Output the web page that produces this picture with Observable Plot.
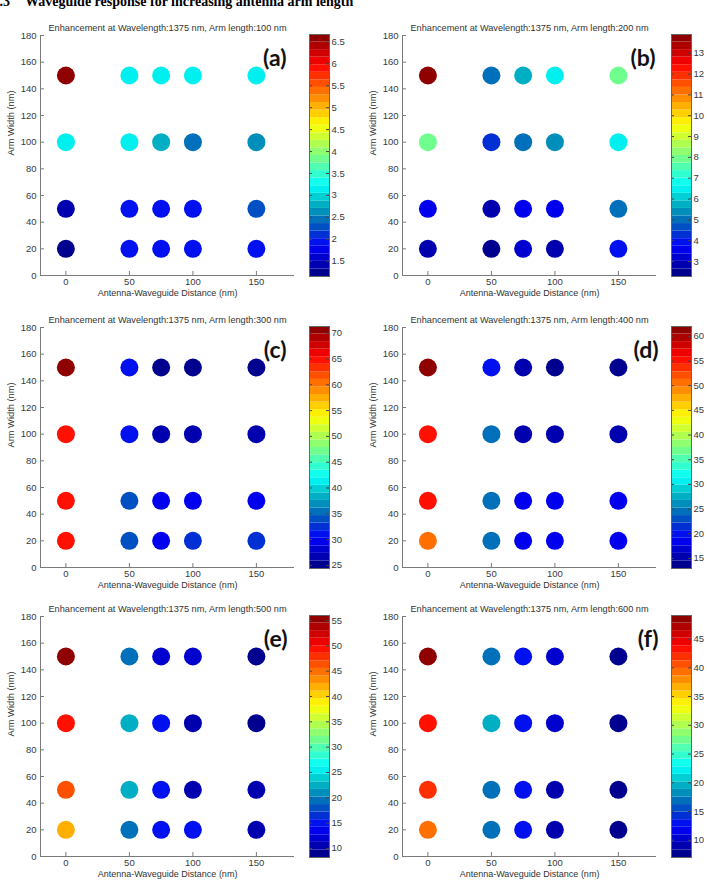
<!DOCTYPE html>
<html>
<head>
<meta charset="utf-8">
<script src="https://cdn.jsdelivr.net/npm/d3@7"></script>
<script src="https://cdn.jsdelivr.net/npm/@observablehq/plot@0.6"></script>
<style>
  body { margin: 0; background: #fff; }
  #page { position: relative; width: 707px; height: 895px; overflow: hidden; background: #fff; }
  .heading { position: absolute; top: -5px; font: bold 14px "Liberation Serif", "Times New Roman", serif; line-height: 14px; white-space: pre; color: #000; }
  .panel { position: absolute; width: 350px; height: 300px; }
  .panel svg { position: absolute; top: 0; }
</style>
</head>
<body>
<div id="page">
  <div class="heading" style="left:-7.5px">3.3</div>
  <div class="heading" style="left:25px">Waveguide response for increasing antenna arm length</div>
</div>
<script>
// Grid of simulated antenna geometries
const distances = [0, 50, 75, 100, 150];   // antenna–waveguide distance (nm)
const widths = [150, 100, 50, 20];          // arm width (nm), one row each
const armLengths = [100, 200, 300, 400, 500, 600];
const letters = ["(a)", "(b)", "(c)", "(d)", "(e)", "(f)"];

// Enhancement at 1375 nm; rows follow `widths`, columns follow `distances`
const armLength100 = [
  [6.67, 3.1, 3.1, 3.1, 3.1],
  [3.1, 3.1, 2.8, 2.45, 2.65],
  [1.4, 1.85, 1.85, 1.85, 2.3],
  [1.15, 1.85, 1.85, 1.85, 1.85]
];
const armLength200 = [
  [13.9, 5.0, 5.9, 6.5, 8.0],
  [8.0, 4.4, 5.0, 5.5, 6.5],
  [3.7, 3.0, 3.7, 3.7, 5.1],
  [3.0, 2.28, 3.1, 3.0, 3.8]
];
const armLength300 = [
  [71.3, 31, 25, 25.2, 24.4],
  [65, 30.5, 26.5, 26.5, 26.5],
  [64.5, 34.5, 30, 30, 30],
  [65, 34.5, 30, 33, 33]
];
const armLength400 = [
  [62, 19.5, 16, 13.5, 12.95],
  [55.5, 25, 15, 15, 15],
  [55, 25, 19, 19, 19],
  [50, 25, 19, 19, 19]
];
const armLength500 = [
  [56, 20, 11.5, 12, 9],
  [50, 22, 14.5, 11, 8.2],
  [46.4, 22, 14.5, 10.5, 11],
  [42.5, 19.5, 14.5, 14.5, 10.5]
];
const armLength600 = [
  [49.1, 17.5, 12.5, 10, 7.5],
  [43.8, 19.5, 12.5, 10, 7.2],
  [42, 17.5, 12.5, 9.5, 7.0],
  [39, 17.5, 12.5, 9.5, 7.3]
];
const enhancement = [armLength100, armLength200, armLength300, armLength400, armLength500, armLength600];

// Axis ticks
const xDomain = [-20, 180];
const yDomain = [0, 180];
const xTicks = [0, 50, 100, 150];
const yTicks = [0, 20, 40, 60, 80, 100, 120, 140, 160, 180];
const colorbarTicks = [
  [1.5, 2, 2.5, 3, 3.5, 4, 4.5, 5, 5.5, 6, 6.5],
  [3, 4, 5, 6, 7, 8, 9, 10, 11, 12, 13],
  [25, 30, 35, 40, 45, 50, 55, 60, 65, 70],
  [15, 20, 25, 30, 35, 40, 45, 50, 55, 60],
  [10, 15, 20, 25, 30, 35, 40, 45, 50, 55],
  [10, 15, 20, 25, 30, 35, 40, 45]
];

// Page layout: panel origins and letter offsets
const colX = [0, 362];
const rowY = [0, 291.7, 581];
const letterDx = [-8, -1, -8, 2, -7, 2];

// Discrete jet colormap, with the blue-to-cyan stretch slightly muted as printed
const LEVELS = 32;
function jet(t) {
  const cl = v => Math.max(0, Math.min(1, v));
  const r = cl(1.5 - Math.abs(4 * t - 3));
  const g = cl(1.5 - Math.abs(4 * t - 2));
  let b = cl(1.5 - Math.abs(4 * t - 1));
  if (t < 0.5) b -= 1.1 * g * (1 - g);
  return d3.rgb(255 * r, 255 * g, 255 * b).formatHex();
}
const jetColors = d3.range(LEVELS).map(i => jet((i + 0.5) / LEVELS));

const axisGray = "#7a7a7a";
const textColor = "#3a3a3a";
const baseStyle = {fontFamily: "'Liberation Sans', Arial, sans-serif", fontSize: "9.5px", color: textColor, background: "transparent", overflow: "visible"};
const fmt = d => String(d);

const page = document.getElementById("page");

enhancement.forEach((matrix, i) => {
  const data = widths.flatMap((w, r) => distances.map((d, c) => ({distance: d, width: w, value: matrix[r][c]})));
  const [lo, hi] = d3.extent(data, d => d.value);
  const step = (hi - lo) / LEVELS;
  const color = {type: "threshold", domain: d3.range(1, LEVELS).map(k => lo + k * step), range: jetColors};

  const W = 300, H = 300, mL = 40, mR = 6, mT = 35, mB = 25;
  const frameW = W - mL - mR, frameH = H - mT - mB;

  const main = Plot.plot({
    width: W, height: H,
    marginLeft: mL, marginRight: mR, marginTop: mT, marginBottom: mB,
    style: baseStyle,
    x: {domain: xDomain},
    y: {domain: yDomain},
    color,
    marks: [
      Plot.ruleX([xDomain[0]], {stroke: axisGray}),
      Plot.ruleY([yDomain[0]], {stroke: axisGray}),
      Plot.ruleX(xTicks, {stroke: axisGray, insetTop: frameH - 4}),
      Plot.ruleY(yTicks, {stroke: axisGray, insetRight: frameW - 4}),
      Plot.axisX(xTicks, {tickSize: 0, tickPadding: 3, label: null, fill: textColor, tickFormat: fmt}),
      Plot.axisY(yTicks, {tickSize: 0, tickPadding: 4, label: null, fill: textColor, tickFormat: fmt}),
      Plot.dot(data, {x: "distance", y: "width", r: 9, fill: "value"}),
      Plot.text([`Enhancement at Wavelength:1375 nm, Arm length:${armLengths[i]} nm`], {frameAnchor: "top", dy: -11, fill: "#333", fontSize: 9.2}),
      Plot.text([letters[i]], {frameAnchor: "top-right", textAnchor: "end", dx: letterDx[i], dy: 14, fontSize: 23, fontWeight: "bold", fontFamily: "Lato, 'Open Sans', sans-serif", fill: "#111"}),
      Plot.text(["Antenna-Waveguide Distance (nm)"], {frameAnchor: "bottom", dy: 20, fill: "#333", fontSize: 9}),
      Plot.text(["Arm Width (nm)"], {frameAnchor: "left", rotate: -90, dx: -29, fill: "#333", fontSize: 9.3})
    ]
  });

  const bands = d3.range(LEVELS).map(k => ({y1: lo + k * step, y2: lo + (k + 1) * step, mid: lo + (k + 0.5) * step}));
  const bar = Plot.plot({
    width: 50, height: H,
    marginLeft: 9, marginRight: 21, marginTop: 34, marginBottom: 24,
    style: baseStyle,
    x: {domain: [0, 1], axis: null},
    y: {domain: [lo, hi], axis: null},
    color,
    marks: [
      Plot.rect(bands, {x1: 0, x2: 1, y1: "y1", y2: "y2", fill: "mid"}),
      Plot.ruleY(colorbarTicks[i], {stroke: "#444", insetLeft: 17}),
      Plot.ruleY(colorbarTicks[i], {stroke: "#444", insetRight: 17}),
      Plot.frame({stroke: "#666"}),
      Plot.axisY(colorbarTicks[i], {anchor: "right", tickSize: 0, tickPadding: 2, label: null, fill: textColor, tickFormat: fmt})
    ]
  });

  const holder = document.createElement("div");
  holder.className = "panel";
  holder.style.left = colX[i % 2] + "px";
  holder.style.top = rowY[Math.floor(i / 2)] + "px";
  main.style.left = "0px";
  bar.style.left = "300px";
  holder.appendChild(main);
  holder.appendChild(bar);
  page.appendChild(holder);
});
</script>
</body>
</html>
